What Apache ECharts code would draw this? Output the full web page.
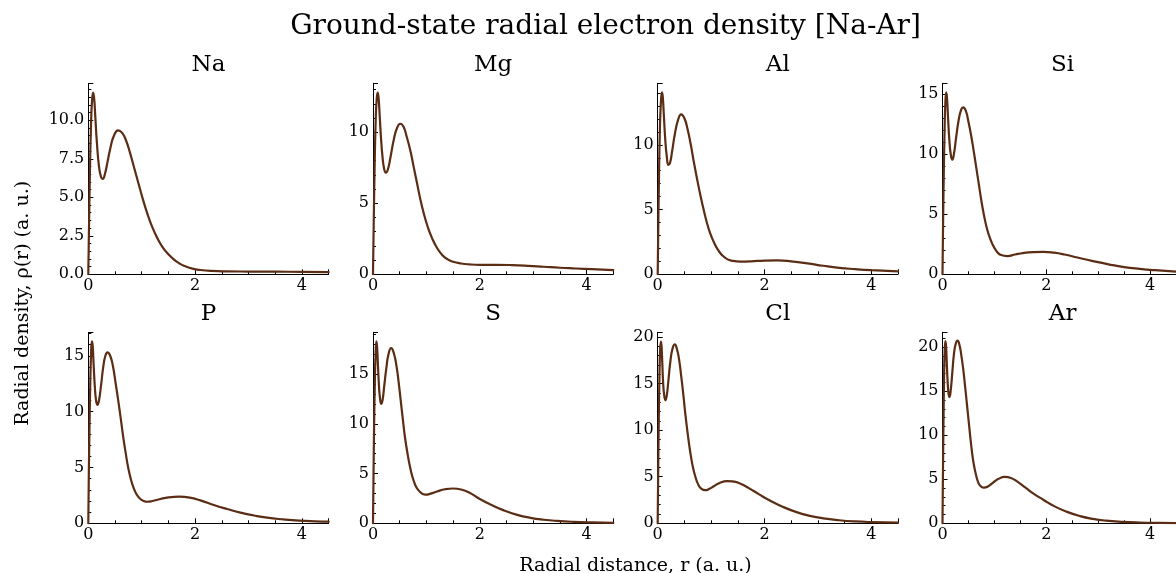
<!DOCTYPE html>
<html>
<head>
<meta charset="utf-8">
<script src="https://cdn.jsdelivr.net/npm/echarts@6/dist/echarts.min.js"></script>
<style>
html,body{margin:0;padding:0;background:#ffffff;}
#chart{width:1176px;height:573px;}
</style>
</head>
<body>
<div id="chart"></div>
<script>
// ---- data: [r (a.u.), rho(r) (a.u.)] ----
const elements = ['Na', 'Mg', 'Al', 'Si', 'P', 'S', 'Cl', 'Ar'];

const rhoNa = [[0,0],[0.015,3.5],[0.03,6.6],[0.05,9.6],[0.07,11.3],[0.09,11.8],[0.11,11.4],[0.13,10.3],[0.16,8.6],[0.2,7.0],[0.24,6.3],[0.27,6.2],[0.31,6.5],[0.36,7.3],[0.42,8.3],[0.48,9.0],[0.56,9.35],[0.63,9.2],[0.7,8.75],[0.78,7.9],[0.86,6.9],[0.94,5.9],[1.02,4.9],[1.1,4.0],[1.2,3.05],[1.3,2.3],[1.4,1.72],[1.5,1.3],[1.6,0.97],[1.7,0.72],[1.8,0.54],[1.95,0.37],[2.1,0.28],[2.3,0.22],[2.6,0.19],[3.0,0.18],[3.5,0.17],[4.0,0.16],[4.5,0.14]];

const rhoMg = [[0,0],[0.015,4.0],[0.03,7.5],[0.05,10.8],[0.07,12.4],[0.088,12.8],[0.105,12.4],[0.125,11.2],[0.15,9.6],[0.18,8.2],[0.21,7.4],[0.24,7.15],[0.28,7.4],[0.33,8.3],[0.39,9.5],[0.45,10.3],[0.51,10.6],[0.57,10.4],[0.63,9.7],[0.7,8.7],[0.76,7.6],[0.82,6.5],[0.88,5.4],[0.95,4.3],[1.02,3.4],[1.1,2.6],[1.2,1.85],[1.3,1.35],[1.4,1.05],[1.5,0.88],[1.65,0.76],[1.8,0.7],[2.0,0.67],[2.3,0.67],[2.6,0.65],[2.9,0.6],[3.2,0.53],[3.5,0.46],[3.8,0.41],[4.1,0.36],[4.5,0.3]];

const rhoAl = [[0,0],[0.012,4.0],[0.025,7.8],[0.04,11.0],[0.06,13.3],[0.08,14.05],[0.095,13.7],[0.115,12.3],[0.14,10.5],[0.17,9.1],[0.2,8.45],[0.23,8.6],[0.27,9.5],[0.32,10.8],[0.38,11.9],[0.44,12.35],[0.5,12.05],[0.56,11.2],[0.62,10.0],[0.68,8.6],[0.74,7.3],[0.8,6.1],[0.86,5.0],[0.92,4.0],[0.98,3.2],[1.05,2.5],[1.12,1.95],[1.2,1.5],[1.3,1.17],[1.4,1.04],[1.55,0.98],[1.75,1.0],[2.0,1.06],[2.25,1.07],[2.5,1.0],[2.8,0.85],[3.1,0.66],[3.4,0.5],[3.7,0.4],[4.0,0.32],[4.5,0.22]];

const rhoSi = [[0,0],[0.012,4.5],[0.025,8.5],[0.04,12.0],[0.055,14.3],[0.072,15.15],[0.088,14.6],[0.105,13.2],[0.13,11.3],[0.16,9.95],[0.19,9.55],[0.22,10.0],[0.26,11.3],[0.31,12.8],[0.36,13.7],[0.4,13.9],[0.45,13.6],[0.5,12.7],[0.55,11.6],[0.6,10.3],[0.65,8.9],[0.7,7.5],[0.75,6.1],[0.8,4.9],[0.86,3.75],[0.92,2.95],[0.98,2.35],[1.05,1.88],[1.13,1.6],[1.25,1.52],[1.4,1.65],[1.55,1.77],[1.75,1.85],[1.95,1.87],[2.15,1.8],[2.35,1.65],[2.6,1.4],[2.9,1.1],[3.2,0.83],[3.5,0.6],[3.8,0.45],[4.1,0.34],[4.5,0.23]];

const rhoP = [[0,0],[0.01,4.5],[0.022,8.5],[0.036,12.3],[0.052,15.2],[0.068,16.3],[0.082,15.9],[0.1,14.2],[0.12,12.4],[0.145,11.0],[0.17,10.6],[0.2,11.0],[0.24,12.4],[0.28,14.0],[0.32,15.0],[0.36,15.3],[0.41,15.0],[0.46,14.1],[0.51,12.6],[0.56,11.0],[0.61,9.3],[0.655,7.7],[0.7,6.3],[0.75,4.9],[0.8,3.9],[0.85,3.15],[0.91,2.55],[0.97,2.2],[1.04,2.0],[1.1,1.93],[1.2,2.0],[1.35,2.18],[1.5,2.32],[1.7,2.38],[1.9,2.3],[2.1,2.05],[2.35,1.64],[2.6,1.28],[2.85,0.95],[3.1,0.7],[3.35,0.5],[3.65,0.35],[3.95,0.24],[4.25,0.18],[4.5,0.15]];

const rhoS = [[0,0],[0.01,5.0],[0.02,9.5],[0.033,13.8],[0.048,17.0],[0.063,18.3],[0.076,17.8],[0.092,16.0],[0.11,14.0],[0.13,12.6],[0.155,12.0],[0.18,12.4],[0.21,13.8],[0.25,15.6],[0.29,17.0],[0.34,17.6],[0.39,17.1],[0.44,15.8],[0.48,14.2],[0.52,12.3],[0.56,10.4],[0.6,8.6],[0.65,6.9],[0.7,5.5],[0.76,4.3],[0.82,3.55],[0.9,3.05],[0.98,2.88],[1.08,2.98],[1.2,3.2],[1.35,3.42],[1.5,3.5],[1.65,3.4],[1.8,3.1],[2.0,2.45],[2.2,1.9],[2.45,1.3],[2.7,0.85],[2.95,0.55],[3.2,0.36],[3.45,0.24],[3.75,0.15],[4.1,0.09],[4.5,0.05]];

const rhoCl = [[0,0],[0.01,6.0],[0.02,11.0],[0.032,15.5],[0.046,18.7],[0.06,19.5],[0.072,19.0],[0.086,17.2],[0.1,15.3],[0.12,13.8],[0.145,13.2],[0.17,13.7],[0.2,15.3],[0.24,17.5],[0.28,18.8],[0.32,19.2],[0.36,18.7],[0.4,17.6],[0.44,15.8],[0.48,13.8],[0.52,11.6],[0.56,9.7],[0.6,8.0],[0.65,6.3],[0.7,5.1],[0.76,4.15],[0.82,3.7],[0.89,3.55],[0.97,3.7],[1.05,3.97],[1.15,4.3],[1.3,4.52],[1.4,4.5],[1.55,4.25],[1.7,3.8],[1.9,3.1],[2.1,2.45],[2.35,1.75],[2.6,1.2],[2.85,0.8],[3.1,0.53],[3.4,0.33],[3.7,0.2],[4.0,0.13],[4.5,0.07]];

const rhoAr = [[0,0],[0.01,6.5],[0.02,12.0],[0.03,16.5],[0.043,19.8],[0.057,20.7],[0.07,20.0],[0.082,18.3],[0.097,16.3],[0.115,14.8],[0.135,14.35],[0.16,15.2],[0.19,17.2],[0.22,19.2],[0.255,20.4],[0.29,20.75],[0.325,20.3],[0.36,19.2],[0.4,17.5],[0.44,15.3],[0.48,13.0],[0.52,10.7],[0.56,8.5],[0.6,6.8],[0.65,5.4],[0.7,4.5],[0.75,4.15],[0.8,4.05],[0.88,4.2],[0.97,4.6],[1.08,5.05],[1.2,5.27],[1.32,5.15],[1.45,4.7],[1.6,4.05],[1.76,3.35],[1.95,2.65],[2.15,1.95],[2.4,1.3],[2.65,0.82],[2.9,0.5],[3.15,0.3],[3.45,0.17],[3.8,0.09],[4.2,0.05],[4.5,0.03]];

const seriesData = [rhoNa, rhoMg, rhoAl, rhoSi, rhoP, rhoS, rhoCl, rhoAr];

// axis ranges / tick steps
const xMin = 0, xMax = 4.5, xStep = 2;
const yMaxes = [12.4, 13.45, 14.75, 15.9, 17.1, 19.2, 20.5, 21.7];
const ySteps = [2.5, 5, 5, 5, 5, 5, 5, 5];

const mainTitle = 'Ground-state radial electron density [Na-Ar]';
const xLabel = 'Radial distance, r (a. u.)';
const yLabel = 'Radial density, \u03c1(r) (a. u.)';

// ---- layout & style ----
const FONT = '"DejaVu Serif", "Liberation Serif", serif';
const LINE_COLOR = '#5b2d14';
const colLeft = [88.3, 373.0, 657.7, 942.5];
const rowTop = [83.3, 332.3];
const gridW = 240.3, gridH = 191;

const grids = [], xAxes = [], yAxes = [], series = [], graphics = [];

function label(text, x, y, size, rot) {
  return {type:'text', x: x, y: y, rotation: rot || 0,
    style:{text: text, font: size + 'px ' + FONT, fill:'#000', align:'center', verticalAlign:'middle', textAlign:'center', textVerticalAlign:'middle'}};
}
graphics.push(label(mainTitle, 605.5, 26.5, 28));
graphics.push(label(xLabel, 635.5, 566.5, 19));
graphics.push(label(yLabel, 23, 303.3, 19, Math.PI/2));

elements.forEach((el, i) => {
  const c = i % 4, r = Math.floor(i / 4);
  const left = colLeft[c], top = rowTop[r];
  grids.push({left: left, top: top, width: gridW, height: gridH, containLabel:false});
  graphics.push(label(el, left + gridW/2, top - 18.5, 23));
  const axisLine = {show:true, onZero:false, lineStyle:{color:'#000', width:1}};
  xAxes.push({
    type:'value', gridIndex:i, min:xMin, max:xMax, interval:xStep,
    axisLine: axisLine,
    axisTick:{show:true, inside:true, length:5, lineStyle:{color:'#000', width:1}},
    minorTick:{show:true, splitNumber:4, length:3, lineStyle:{color:'#000', width:1}},
    splitLine:{show:false}, minorSplitLine:{show:false},
    axisLabel:{show:true, showMaxLabel:false, margin:4, color:'#000', fontFamily:FONT, fontSize:16}
  });
  const step = ySteps[i];
  yAxes.push({
    type:'value', gridIndex:i, min:0, max:yMaxes[i], interval:step,
    axisLine: axisLine,
    axisTick:{show:true, inside:true, length:5, lineStyle:{color:'#000', width:1}},
    minorTick:{show:true, splitNumber:5, length:3, lineStyle:{color:'#000', width:1}},
    splitLine:{show:false}, minorSplitLine:{show:false},
    axisLabel:{show:true, showMaxLabel:false, margin:4, color:'#000', fontFamily:FONT, fontSize:16,
      formatter: (v) => (step % 1 !== 0 ? v.toFixed(1) : String(v))}
  });
  series.push({
    type:'line', xAxisIndex:i, yAxisIndex:i, data: seriesData[i],
    showSymbol:false, symbol:'none', smooth:0.5,
    lineStyle:{color:LINE_COLOR, width:2.2, join:'round', cap:'round'}, clip:true, animation:false
  });
});

const chart = echarts.init(document.getElementById('chart'), null, {renderer:'canvas'});
chart.setOption({
  backgroundColor:'#ffffff',
  animation:false,
  grid: grids, xAxis: xAxes, yAxis: yAxes, series: series,
  graphic: graphics
});
</script>
</body>
</html>
